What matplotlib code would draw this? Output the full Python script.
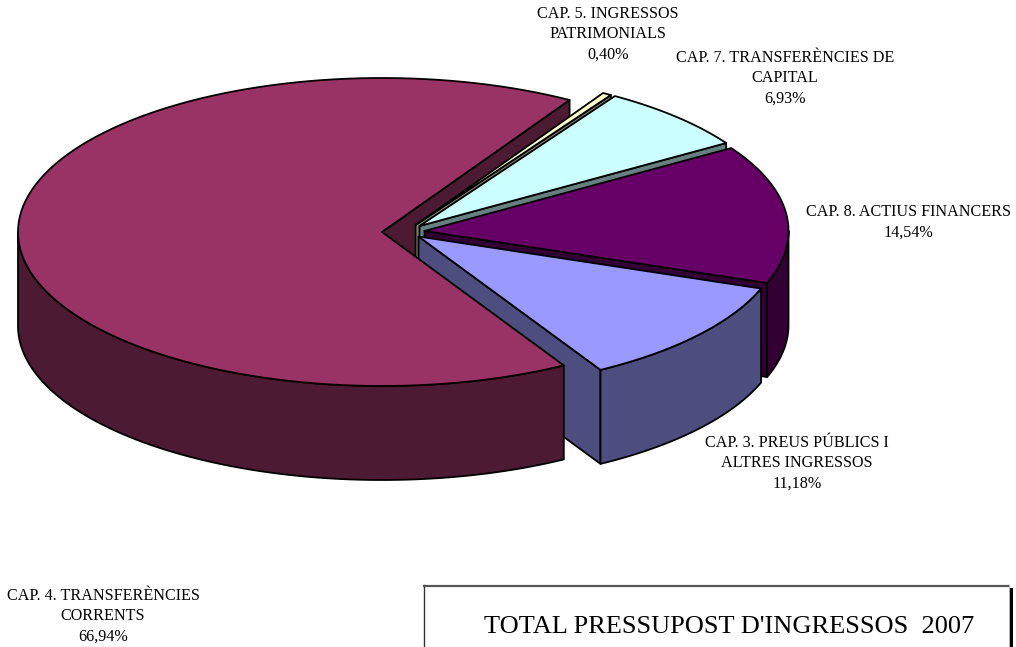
# Pastis 3D "eclate" du budget d'ingressos 2007, dessine en coordonnees pixel.
import numpy as np
import matplotlib
matplotlib.use("Agg")
import matplotlib.pyplot as plt
from matplotlib.patches import Polygon, Rectangle

plt.rcParams["font.family"] = ["Liberation Serif", "DejaVu Serif"]

# donnees, dans le sens horaire a partir de la tranche de devant
labels = ["CAP. 3. PREUS PÚBLICS I\nALTRES INGRESSOS",
          "CAP. 8. ACTIUS FINANCERS",
          "CAP. 7. TRANSFERÈNCIES DE\nCAPITAL",
          "CAP. 5. INGRESSOS\nPATRIMONIALS",
          "CAP. 4. TRANSFERÈNCIES\nCORRENTS"]
values = [11.18, 14.54, 6.93, 0.40, 66.94]
top_colors = ["#9999FF", "#660066", "#CCFFFF", "#FFFFCC", "#993366"]
side_colors = ["#4D4D80", "#330033", "#668080", "#808066", "#4D1A33"]

# geometrie de l'ellipse
A, B, DEPTH = 364, 154, 94
START = -60
centers = [(418.5, 236.5), (424.5, 231), (419.5, 226), (415.5, 225), (382, 232)]
label_pos = [(797, 463), (908, 222), (785, 78), (608, 34), (103, 616)]
LW = 1.3


def arc(c, t0, t1, dy=0):
    t = np.radians(np.linspace(t0, t1, 120))
    return np.column_stack([c[0] + A * np.cos(t), c[1] - B * np.sin(t) + dy])


def draw_wall(ax, c, t0, color, z):
    p = arc(c, t0, t0, 0)[0]
    ax.add_patch(Polygon([c, p, (p[0], p[1] + DEPTH), (c[0], c[1] + DEPTH)],
                         fc=color, ec="black", lw=LW, joinstyle="round", zorder=z))


def draw_slice(ax, c, t0, t1, top, side, z):
    # partie visible du bord (moitie avant de l'ellipse seulement)
    lo, hi = max(t0, -180), min(t1, 0)
    if hi <= lo:
        lo, hi = max(t0, 180), min(t1, 360)
    if hi > lo:
        rim = np.vstack([arc(c, lo, hi), arc(c, hi, lo, DEPTH)])
        ax.add_patch(Polygon(rim, fc=side, ec="black", lw=LW, joinstyle="round", zorder=z))
    ax.add_patch(Polygon(np.vstack([[c], arc(c, t0, t1)]), fc=top, ec="black",
                         lw=LW, joinstyle="round", zorder=z + 0.1))


fig = plt.figure(figsize=(10.16, 6.47), dpi=100)
ax = fig.add_axes([0, 0, 1, 1])
ax.set_xlim(0, 1016)
ax.set_ylim(647, 0)
ax.axis("off")

angle = START
for i, v in enumerate(values):
    span = v * 3.6
    t0, t1 = angle, angle + span
    # la grande tranche : sa paroi est derriere, son dessus devant tout le reste
    draw_wall(ax, centers[i], t0, side_colors[i], 0 if i == 4 else 10 - 2 * i)
    draw_slice(ax, centers[i], t0, t1, top_colors[i], side_colors[i], 20 if i == 4 else 10.2 - 2 * i)
    lx, ly = label_pos[i]
    ax.text(lx, ly, labels[i] + "\n" + f"{v:.2f}".replace(".", ",") + "%",
            ha="center", va="center", fontsize=11.6, linespacing=1.36, zorder=30)
    angle = t1

# cadre du titre, coupe par le bas de l'image
ax.add_patch(Rectangle((1009, 588), 3.5, 70, fc="black", ec="none", zorder=30))
ax.plot([424, 424], [585, 647], color="#333333", lw=1.0, zorder=31)
ax.plot([424, 1008.5], [585.5, 585.5], color="#555555", lw=1.6, zorder=31)
ax.plot([1008.5, 1008.5], [585, 647], color="#BBBBBB", lw=0.7, zorder=31)
ax.text(729, 627, "TOTAL PRESSUPOST D'INGRESSOS  2007", ha="center", va="center",
        fontsize=19, zorder=32)

fig.savefig("out.png", dpi=100)
